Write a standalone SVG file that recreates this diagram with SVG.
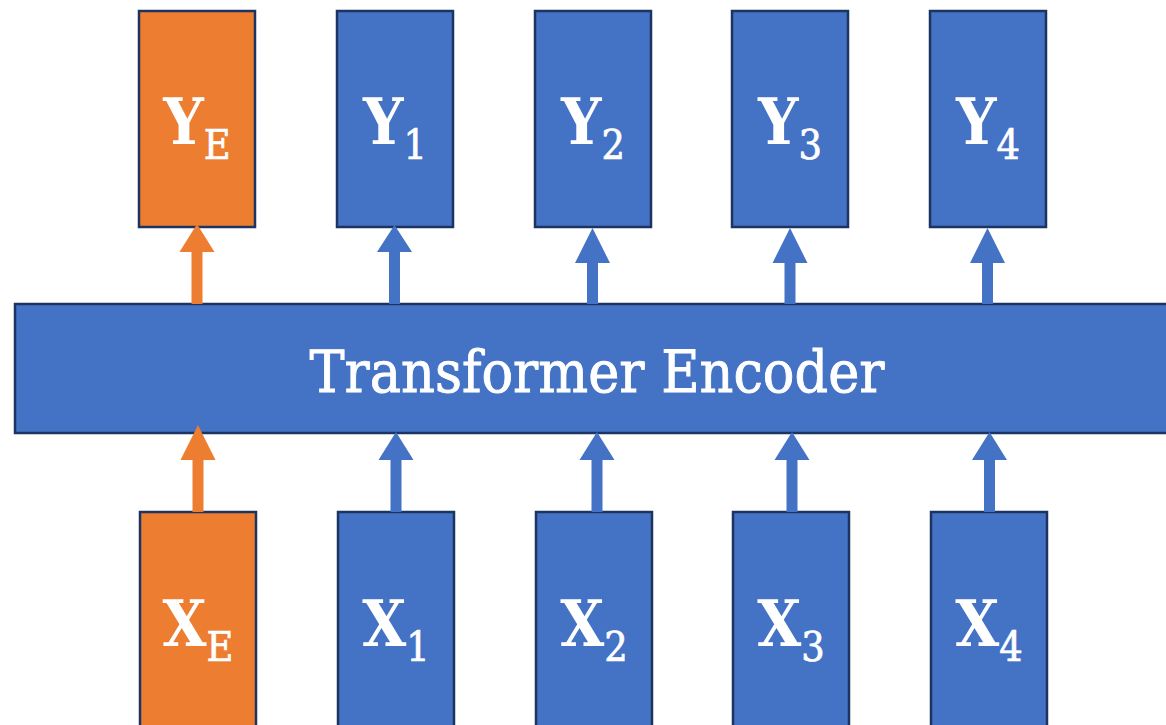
<svg xmlns="http://www.w3.org/2000/svg" width="1166" height="725" viewBox="0 0 1166 725">
  <style>
    .box { stroke: #1c3461; stroke-width: 2.5; }
    .blue { fill: #4472c4; }
    .orange { fill: #ed7d31; }
    .lbl { font-family: "DejaVu Serif Condensed", "DejaVu Serif", "Liberation Serif", serif; font-weight: bold; font-size: 63px; fill: #ffffff; text-anchor: middle; }
    .sub { font-weight: normal; font-size: 41px; stroke: #ffffff; stroke-width: 0.7; }
    .title { font-family: "DejaVu Serif", "Liberation Serif", serif; font-size: 58px; fill: #ffffff; stroke: #ffffff; stroke-width: 0.9; text-anchor: middle; }
  </style>
  <rect width="1166" height="725" fill="#ffffff"/>

  <!-- encoder block -->
  <g id="encoder">
    <rect class="box blue" x="15" y="304" width="1160" height="129"/>
    <text class="title" x="597" y="392" textLength="575" lengthAdjust="spacingAndGlyphs">Transformer Encoder</text>
  </g>

  <!-- output tokens -->
  <g id="out-e"><rect class="box orange" x="139" y="11" width="116" height="216"/><text class="lbl" x="197" y="144">Y<tspan class="sub" dy="15">E</tspan></text></g>
  <g id="out-1"><rect class="box blue" x="337" y="11" width="116" height="216"/><text class="lbl" x="395" y="144">Y<tspan class="sub" dy="15">1</tspan></text></g>
  <g id="out-2"><rect class="box blue" x="535" y="11" width="116" height="216"/><text class="lbl" x="593" y="144">Y<tspan class="sub" dy="15">2</tspan></text></g>
  <g id="out-3"><rect class="box blue" x="732" y="11" width="116" height="216"/><text class="lbl" x="790" y="144">Y<tspan class="sub" dy="15">3</tspan></text></g>
  <g id="out-4"><rect class="box blue" x="930" y="11" width="116" height="216"/><text class="lbl" x="988" y="144">Y<tspan class="sub" dy="15">4</tspan></text></g>

  <!-- input tokens -->
  <g id="in-e"><rect class="box orange" x="140" y="512" width="116" height="230"/><text class="lbl" x="198" y="646">X<tspan class="sub" dy="15">E</tspan></text></g>
  <g id="in-1"><rect class="box blue" x="338" y="512" width="116" height="230"/><text class="lbl" x="396" y="646">X<tspan class="sub" dy="15">1</tspan></text></g>
  <g id="in-2"><rect class="box blue" x="536" y="512" width="116" height="230"/><text class="lbl" x="594" y="646">X<tspan class="sub" dy="15">2</tspan></text></g>
  <g id="in-3"><rect class="box blue" x="733" y="512" width="116" height="230"/><text class="lbl" x="791" y="646">X<tspan class="sub" dy="15">3</tspan></text></g>
  <g id="in-4"><rect class="box blue" x="931" y="512" width="116" height="230"/><text class="lbl" x="989" y="646">X<tspan class="sub" dy="15">4</tspan></text></g>

  <!-- block arrows: shaft 11 wide, head 35 wide -->
  <g id="connectors">
    <!-- encoder to outputs -->
    <polygon class="orange" points="191.5,304 202.5,304 202.5,252 214.5,252 197,224 179.5,252 191.5,252"/>
    <polygon class="blue" points="389,304 400,304 400,252 412,252 394.5,225 377,252 389,252"/>
    <polygon class="blue" points="587,304 598,304 598,263 610,263 592.5,228 575,263 587,263"/>
    <polygon class="blue" points="784.5,304 795.5,304 795.5,263 807.5,263 790,228 772.5,263 784.5,263"/>
    <polygon class="blue" points="982,304 993,304 993,263 1005,263 987.5,228 970,263 982,263"/>
    <!-- inputs to encoder -->
    <polygon class="orange" points="192.5,512 203.5,512 203.5,460 215.5,460 198,425 180.5,460 192.5,460"/>
    <polygon class="blue" points="390.5,512 401.5,512 401.5,460 413.5,460 396,432 378.5,460 390.5,460"/>
    <polygon class="blue" points="591.5,512 602.5,512 602.5,460 614.5,460 597,432 579.5,460 591.5,460"/>
    <polygon class="blue" points="786.5,512 797.5,512 797.5,460 809.5,460 792,432 774.5,460 786.5,460"/>
    <polygon class="blue" points="984,512 995,512 995,460 1007,460 989.5,432 972,460 984,460"/>
  </g>
</svg>
